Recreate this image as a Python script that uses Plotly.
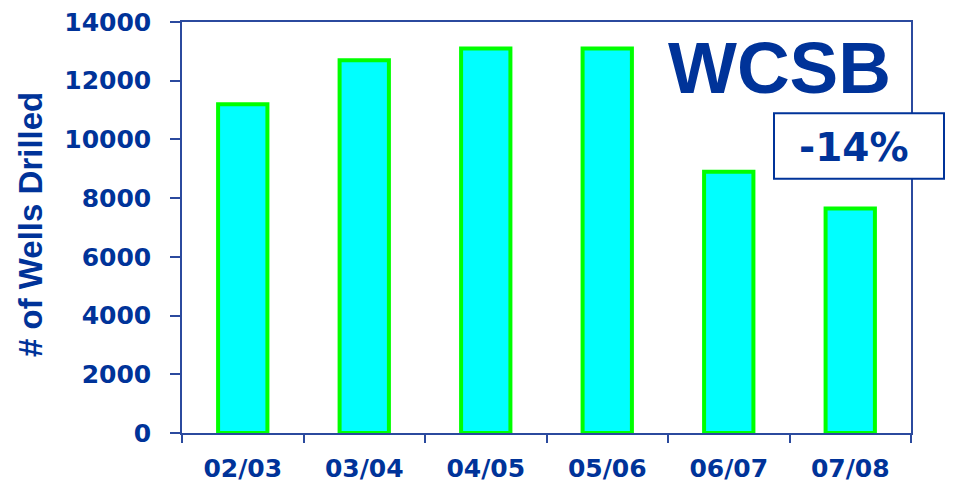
import plotly.graph_objects as go

categories = ["02/03", "03/04", "04/05", "05/06", "06/07", "07/08"]
wells_drilled = [11200, 12700, 13100, 13100, 8900, 7650]
y_ticks = [0, 2000, 4000, 6000, 8000, 10000, 12000, 14000]

navy = "#003399"
axis_col = "#2B4A9E"

fig = go.Figure(
    go.Bar(
        x=categories,
        y=wells_drilled,
        marker=dict(color="#00FFFF", line=dict(color="#00FF00", width=4)),
        showlegend=False,
    )
)

# page has an 8px body margin, so the figure is sized to fit inside the window
fig.update_layout(
    width=945,
    height=477,
    margin=dict(l=174, r=42, t=14, b=52, autoexpand=False),
    paper_bgcolor="white",
    plot_bgcolor="white",
    bargap=0.594,
    font=dict(family="DejaVu Sans", color=navy),
)

fig.update_xaxes(
    type="category",
    tickson="boundaries",
    ticks="outside",
    ticklen=8,
    tickwidth=1.5,
    tickcolor=axis_col,
    showline=True,
    linecolor=axis_col,
    linewidth=1.5,
    mirror=True,
    showgrid=False,
    automargin=False,
    tickfont=dict(family="DejaVu Sans", size=25, color=navy, weight="bold"),
    ticklabelstandoff=12,
    ticklabeloverflow="allow",
)

fig.update_yaxes(
    range=[0, 14000],
    tickvals=y_ticks,
    ticktext=[str(v) for v in y_ticks],
    ticks="outside",
    ticklen=10,
    tickwidth=1.5,
    tickcolor=axis_col,
    showline=True,
    linecolor=axis_col,
    linewidth=1.5,
    mirror=True,
    showgrid=False,
    zeroline=False,
    automargin=False,
    tickfont=dict(family="DejaVu Sans", size=25, color=navy, weight="bold"),
    ticklabelstandoff=14,
    ticklabeloverflow="allow",
)

# y-axis title
fig.add_annotation(
    text="# of Wells Drilled",
    textangle=-90,
    xref="paper", yref="paper",
    x=-0.2085, y=0.506,
    xanchor="center", yanchor="middle",
    showarrow=False,
    font=dict(family="Liberation Sans", size=33, color=navy, weight="bold"),
)

# WCSB label
fig.add_annotation(
    text="WCSB",
    xref="paper", yref="paper",
    x=(779 - 182) / 729, y=(433 - 65) / 414,
    xanchor="center", yanchor="middle",
    showarrow=False,
    font=dict(family="Liberation Sans", size=73, color=navy, weight="bold"),
)

# -14% box
fig.add_shape(
    type="rect",
    xref="paper", yref="paper",
    x0=(774 - 182) / 729, x1=(944 - 182) / 729,
    y0=(433 - 177) / 414, y1=(433 - 111) / 414,
    line=dict(color=navy, width=2),
    fillcolor="white",
    layer="above",
)
fig.add_annotation(
    text="-14%",
    xref="paper", yref="paper",
    x=(853.5 - 182) / 729, y=(433 - 145) / 414,
    xanchor="center", yanchor="middle",
    showarrow=False,
    font=dict(family="DejaVu Sans", size=39, color=navy, weight="bold"),
)

fig.write_html("out.html")
